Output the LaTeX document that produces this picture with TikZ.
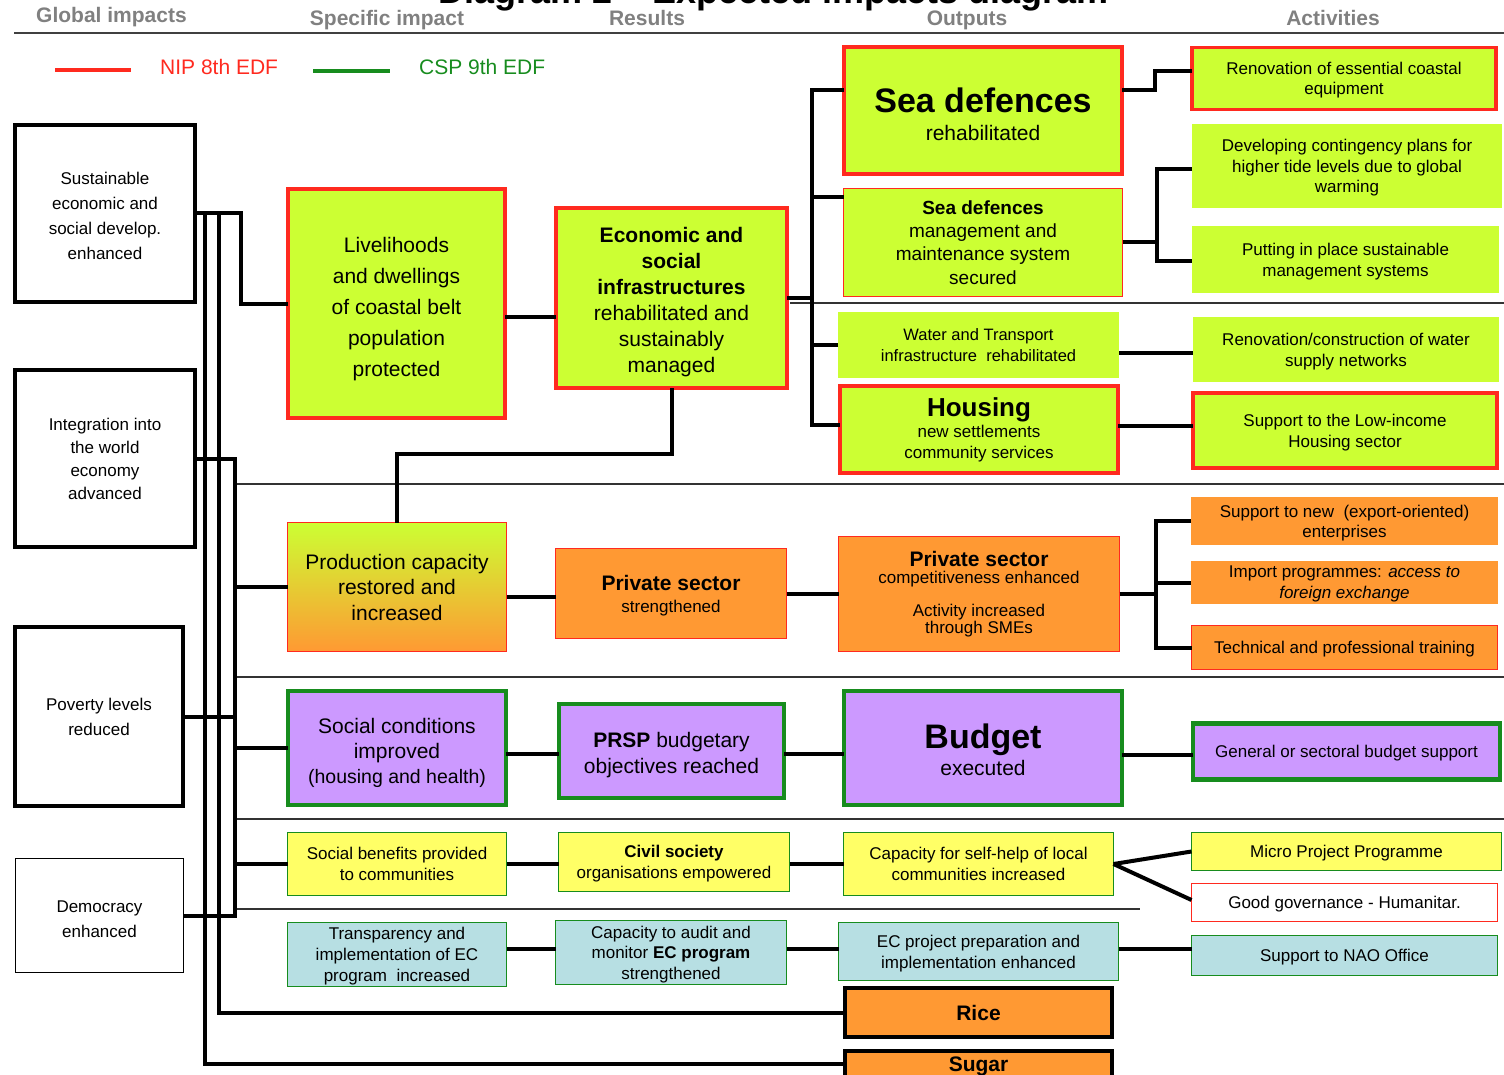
\documentclass[tikz,border=0pt]{standalone}
\usepackage{fontspec}
\setmainfont{Liberation Sans}
\definecolor{lime}{HTML}{CCFF33}
\definecolor{orng}{HTML}{FF9933}
\definecolor{purp}{HTML}{CC99FF}
\definecolor{yell}{HTML}{FFFF66}
\definecolor{lblue}{HTML}{B7DFE3}
\definecolor{nipred}{HTML}{FF2A1F}
\definecolor{cspgreen}{HTML}{178C1E}
\definecolor{hdrgray}{HTML}{808080}
\newcommand{\myfs}[2]{\fontsize{#1}{#2}\selectfont}
\newcommand{\myup}[1]{\rule{0pt}{#1pt}}
\begin{document}
\begin{tikzpicture}[x=1pt,y=-1pt,
  bx/.style={rectangle, align=center, inner sep=0pt, outer sep=0pt, text=black},
  sz/.style 2 args={minimum width=#1pt, minimum height=#2pt},
  tdp/.style={text depth=#1pt},
  thkred/.style={draw=nipred, line width=3.6pt},
  thnred/.style={draw=nipred, line width=1.2pt},
  thkgrn/.style={draw=cspgreen, line width=4.2pt},
  thngrn/.style={draw=cspgreen, line width=1.2pt},
  thkblk/.style={draw=black, line width=4pt},
  thnblk/.style={draw=black, line width=1.4pt},
  conn/.style={draw=black, line width=4pt},
  sepline/.style={draw=black!80, line width=1.3pt},
  hdr/.style={text=hdrgray, font=\myfs{21}{25}\bfseries, inner sep=0pt, anchor=base},
  lg/.style={font=\myfs{21}{25}, inner sep=0pt, anchor=west}
]
\useasboundingbox (0,0) rectangle (1504,1075);
\clip (0,0) rectangle (1504,1075);

% title (cut by the top edge) and column headers
\node[anchor=base, font=\myfs{36}{40}\bfseries, inner sep=0pt] (title) at (773.5,4) {Diagram 2 – Expected impacts diagram};
\node[hdr] (h1) at (111.5,23) {Global impacts};
\node[hdr] (h2) at (387,26) {Specific impact};
\node[hdr] (h3) at (647,26) {Results};
\node[hdr] (h4) at (967,26) {Outputs};
\node[hdr] (h5) at (1333,26) {Activities};
\draw[line width=1.5pt, black!75] (14,33) -- (1504,33);

% legend
\draw[line width=4pt, nipred] (55,70) -- (131,70);
\node[lg, text=nipred] (legnip) at (160,67) {NIP 8th EDF};
\draw[line width=4pt, cspgreen] (313,71) -- (390,71);
\node[lg, text=cspgreen] (legcsp) at (419,67) {CSP 9th EDF};

% separators
\draw[sepline] (790,303) -- (1504,303);
\draw[sepline] (236,484) -- (1504,484);
\draw[sepline] (236,677) -- (1504,677);
\draw[sepline] (236,819) -- (1504,819);
\draw[sepline] (236,909) -- (1140,909);

% global impacts
\node[bx, thkblk, fill=white, sz={180}{177}, font=\myfs{17}{25}, tdp=0] (g1) at (105,213.5) {\myup{16.4}Sustainable\\economic and\\social develop.\\enhanced};
\node[bx, thkblk, fill=white, sz={180}{177}, font=\myfs{17}{23}, tdp=0] (g2) at (105,458.5) {Integration into\\the world\\economy\\advanced};
\node[bx, thkblk, fill=white, sz={168}{179}, font=\myfs{17}{25}, tdp=0] (g3) at (99,716.5) {Poverty levels\\reduced};
\node[bx, thnblk, fill=white, sz={168}{114}, font=\myfs{17}{25}, tdp=0] (g4) at (99.5,915.5) {\myup{18.2}Democracy\\enhanced};

% specific impacts
\node[bx, thkred, fill=lime, sz={217}{229}, font=\myfs{21}{31}, tdp=0] (s1) at (396.5,303.5) {\myup{21.3}Livelihoods\\and dwellings\\of coastal belt\\population\\protected};
\node[bx, thnred, top color=lime, bottom color=orng, sz={219}{129}, font=\myfs{21}{25.5}, tdp=0] (s2) at (397,587) {Production capacity\\restored and\\increased};
\node[bx, thkgrn, fill=purp, sz={218}{114}, font=\myfs{21}{25}, tdp=0] (s3) at (397,748) {\myup{21.3}Social conditions\\improved\\{\myfs{19.5}{23}(housing and health)}};
\node[bx, thngrn, fill=yell, sz={219}{63}, font=\myfs{17}{21}, tdp=0] (s4) at (397,864) {Social benefits provided\\to communities};
\node[bx, thngrn, fill=lblue, sz={219}{64}, font=\myfs{17}{21}, tdp=0] (s5) at (397,954.5) {Transparency and\\implementation of EC\\program\ \ increased};

% results
\node[bx, thkred, fill=lime, sz={231}{180}, font=\myfs{21}{26}, tdp=0] (r1) at (671.5,298) {\myup{19.3}\textbf{Economic and}\\\textbf{social}\\\textbf{infrastructures}\\rehabilitated and\\sustainably\\managed};
\node[bx, thnred, fill=orng, sz={231}{90}, font=\myfs{17}{22}, tdp=0] (r2) at (671,593.5) {{\myfs{21}{25}\bfseries Private sector}\\strengthened};
\node[bx, thkgrn, fill=purp, sz={225}{94}, font=\myfs{21}{26}, tdp=0] (r3) at (671.5,751) {\myup{19.3}\textbf{PRSP} budgetary\\objectives reached};
\node[bx, thngrn, fill=yell, sz={231}{59}, font=\myfs{17}{21}, tdp=0] (r4) at (674,862) {\textbf{Civil society}\\organisations empowered};
\node[bx, thngrn, fill=lblue, sz={231}{64}, font=\myfs{17}{20.5}, tdp=0] (r5) at (671,952.5) {Capacity to audit and\\monitor \textbf{EC program}\\strengthened};

% outputs
\node[bx, thkred, fill=lime, sz={278}{127}, font=\myfs{21}{28}, tdp=0] (o1) at (983,110.5) {{\myfs{34}{38}\bfseries\myup{32.8}Sea defences}\\rehabilitated};
\node[bx, thnred, fill=lime, sz={279}{108}, font=\myfs{19}{23.3}] (o2) at (983,242.5) {\textbf{Sea defences}\\management and\\maintenance system\\secured};
\node[bx, fill=lime, sz={281}{66}, font=\myfs{16.5}{21}] (o3) at (978.5,345) {Water and Transport\\infrastructure\ \ rehabilitated};
\node[bx, thkred, fill=lime, sz={278}{87}, font=\myfs{17}{21}] (o4) at (979,429.5) {{\myfs{26}{30}\bfseries Housing}\\new settlements\\community services};
\node[bx, thnred, fill=orng, sz={281}{115}, font=\myfs{17}{17.5}] (o5) at (979,594) {{\myfs{21}{24}\bfseries Private sector}\\competitiveness enhanced\\[15pt]Activity increased\\through SMEs};
\node[bx, thkgrn, fill=purp, sz={278}{114}, font=\myfs{21}{27}, tdp=0] (o6) at (983,748) {{\myfs{34}{38}\bfseries\myup{28.8}Budget}\\executed};
\node[bx, thngrn, fill=yell, sz={270}{63}, font=\myfs{17}{21}, tdp=0] (o7) at (978.5,864) {Capacity for self-help of local\\communities increased};
\node[bx, thngrn, fill=lblue, sz={280}{58}, font=\myfs{17}{21}, tdp=0] (o8) at (978.5,951.5) {EC project preparation and\\implementation enhanced};
\node[bx, thkblk, fill=orng, sz={267}{49}, font=\myfs{21}{25}\bfseries] (o9) at (978.5,1012.5) {Rice};
\node[bx, thkblk, fill=orng, sz={267}{26}, font=\myfs{21}{25}\bfseries, tdp=0.4] (o10) at (978.5,1064) {Sugar};

% activities
\node[bx, thkred, fill=lime, sz={304}{62}, font=\myfs{17}{20}, tdp=0] (a1) at (1344,78.5) {Renovation of essential coastal\\equipment};
\node[bx, fill=lime, sz={310}{84}, font=\myfs{17}{20.5}, tdp=0] (a2) at (1347,166) {Developing contingency plans for\\higher tide levels due to global\\warming};
\node[bx, fill=lime, sz={307}{67}, font=\myfs{17}{21}, tdp=0] (a3) at (1345.5,259.5) {Putting in place sustainable\\management systems};
\node[bx, fill=lime, sz={306}{65}, font=\myfs{17}{21}, tdp=0] (a4) at (1346,349.5) {Renovation/construction of water\\supply networks};
\node[bx, thkred, fill=lime, sz={304}{75}, font=\myfs{17}{21}, tdp=0] (a5) at (1345,430.5) {Support to the Low-income\\Housing sector};
\node[bx, fill=orng, sz={307}{48}, font=\myfs{17}{20}, tdp=0] (a6) at (1344.5,521) {Support to new\ \ (export-oriented)\\enterprises};
\node[bx, fill=orng, sz={307}{43}, font=\myfs{17}{21}, tdp=0] (a7) at (1344.5,582.5) {Import programmes: \textit{access to}\\\textit{foreign exchange}};
\node[bx, thnred, fill=orng, sz={306}{44}, font=\myfs{17}{21}, tdp=0] (a8) at (1344.5,647.5) {Technical and professional training};
\node[bx, thkgrn, fill=purp, sz={307}{56}, font=\myfs{17}{21}, tdp=0] (a9) at (1346.5,751.5) {General or sectoral budget support};
\node[bx, thngrn, fill=yell, sz={310}{38}, font=\myfs{17}{21}, tdp=0] (a10) at (1346.5,851.5) {Micro Project Programme};
\node[bx, thnred, fill=white, sz={306}{38}, font=\myfs{17}{21}, tdp=0] (a11) at (1344.5,902.5) {Good governance - Humanitar.};
\node[bx, thngrn, fill=lblue, sz={306}{40}, font=\myfs{17}{21}, tdp=0] (a12) at (1344.5,955.5) {Support to NAO Office};

% ---- connectors ----
% from global impacts
\draw[conn] (g1.east) -- ++(46,0) |- (s1.west);
\draw[conn] (g1.east) -- ++(10,0) |- (o10.west);
\draw[conn] (g1.east) -- ++(24,0) |- (o9.west);
\draw[conn] (g2.east) -- ++(40,0) coordinate (bA) |- (s2.west);
\draw[conn] (g4.east) -| (bA);
\draw[conn] (g3.east) -- (g3.east -| bA);
\draw[conn] (s3.west) -- (s3.west -| bA);
\draw[conn] (s4.west) -- (s4.west -| bA);

% row 1
\coordinate (l1) at ([yshift=-13.5pt]s1.east);
\draw[conn] (l1) -- (l1 -| r1.west);
\draw[conn] (r1.south) -- ++(0,66) -| (s2.north);
\draw[conn] (r1.east) -- ++(25,0) coordinate (bB);
\coordinate (o1w) at ([yshift=20.5pt]o1.west);
\coordinate (o2w) at ([yshift=45.5pt]o2.west);
\coordinate (o4w) at ([yshift=4.5pt]o4.west);
\draw[conn] (o1w) -| (bB) |- (o4w);
\draw[conn] (o2w) -- (o2w -| bB);
\draw[conn] (o3.west) -- (o3.west -| bB);
\coordinate (o1e) at ([yshift=20.5pt]o1.east);
\coordinate (a1w) at ([yshift=7.5pt]a1.west);
\draw[conn] (o1e) -- ++(33,0) |- (a1w);
\draw[conn] (o2.east) -- ++(34,0) coordinate (bC);
\coordinate (a2w) at ([yshift=-3pt]a2.west);
\coordinate (a3w) at ([yshift=-1.5pt]a3.west);
\draw[conn] (a2w) -| (bC) |- (a3w);
\coordinate (o3e) at ([yshift=-8pt]o3.east);
\draw[conn] (o3e) -- (o3e -| a4.west);
\coordinate (o4e) at ([yshift=3.5pt]o4.east);
\draw[conn] (o4e) -- (o4e -| a5.west);

% row 2
\coordinate (s2e) at ([yshift=-10pt]s2.east);
\draw[conn] (s2e) -- (s2e -| r2.west);
\draw[conn] (r2.east) -- (r2.east -| o5.west);
\draw[conn] (o5.east) -- ++(36,0) coordinate (bD);
\draw[conn] (a6.west) -| (bD) |- (a8.west);
\draw[conn] (a7.west) -- (a7.west -| bD);

% row 3
\coordinate (s3e) at ([yshift=-6pt]s3.east);
\draw[conn] (s3e) -- (s3e -| r3.west);
\coordinate (r3e) at ([yshift=-3pt]r3.east);
\draw[conn] (r3e) -- (r3e -| o6.west);
\coordinate (o6e) at ([yshift=-7pt]o6.east);
\draw[conn] (o6e) -- (o6e -| a9.west);

% row 4
\draw[conn] (s4.east) -- (s4.east -| r4.west);
\draw[conn] (o7.west -| r4.east) -- (o7.west);
\draw[conn] (o7.east) -- (a10.west);
\draw[conn] (o7.east) -- ([yshift=2.5pt]a11.west);

% row 5
\coordinate (s5e) at ([yshift=5.5pt]s5.east);
\draw[conn] (s5e) -- (s5e -| r5.west);
\coordinate (r5e) at ([yshift=3.5pt]r5.east);
\draw[conn] (r5e) -- (r5e -| o8.west);
\coordinate (o8e) at ([yshift=2.5pt]o8.east);
\draw[conn] (o8e) -- (o8e -| a12.west);
\end{tikzpicture}
\end{document}
